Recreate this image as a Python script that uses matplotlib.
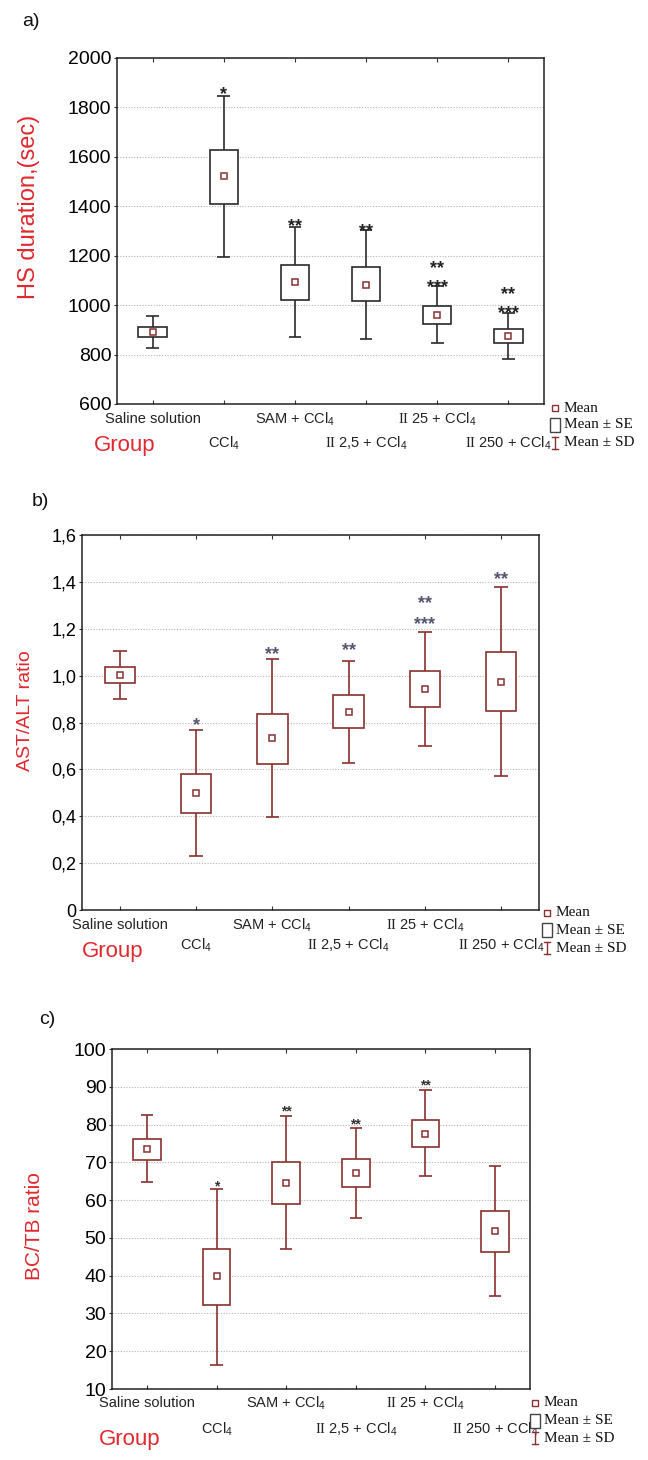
import matplotlib
matplotlib.use('Agg')
import matplotlib.pyplot as plt
from matplotlib.patches import Rectangle
from matplotlib.lines import Line2D

plt.rcParams['font.family'] = ['Liberation Sans', 'DejaVu Sans']
plt.rcParams['mathtext.fontset'] = 'custom'
plt.rcParams['mathtext.rm'] = 'Liberation Sans'
plt.rcParams['mathtext.it'] = 'Liberation Sans:italic'
plt.rcParams['mathtext.bf'] = 'Liberation Sans:bold'
plt.rcParams['mathtext.tt'] = 'Liberation Serif'

# ---------------- data ----------------
groups = ['Saline solution', 'CCl$_4$', 'SAM + CCl$_4$',
          r'$\mathtt{II}$ 2,5 + CCl$_4$', r'$\mathtt{II}$ 25 + CCl$_4$',
          r'$\mathtt{II}$ 250 + CCl$_4$']

# a) HS duration
hs_mean = [890, 1521, 1094, 1081, 961, 876]
hs_se_low = [870, 1411, 1022, 1015, 923, 845]
hs_se_high = [910, 1629, 1161, 1154, 996, 903]
hs_sd_low = [825, 1193, 870, 865, 847, 782]
hs_sd_high = [957, 1848, 1315, 1303, 1079, 968]
hs_stars = [[], ['*'], ['**'], ['**'], ['**', '***'], ['**', '***']]
hs_star_y = [[], [1875], [1338], [1320], [1170, 1092], [1066, 987]]
hs_yticks = [600, 800, 1000, 1200, 1400, 1600, 1800, 2000]
hs_yticklabels = ['600', '800', '1000', '1200', '1400', '1600', '1800', '2000']

# b) AST/ALT ratio
ast_mean = [1.003, 0.500, 0.733, 0.846, 0.943, 0.974]
ast_se_low = [0.970, 0.412, 0.624, 0.778, 0.866, 0.848]
ast_se_high = [1.037, 0.582, 0.838, 0.919, 1.020, 1.101]
ast_sd_low = [0.900, 0.230, 0.395, 0.629, 0.701, 0.570]
ast_sd_high = [1.105, 0.770, 1.071, 1.063, 1.186, 1.378]
ast_stars = [[], ['*'], ['**'], ['**'], ['**', '***'], ['**']]
ast_star_y = [[], [0.812], [1.112], [1.130], [1.330, 1.242], [1.435]]
ast_yticks = [0, 0.2, 0.4, 0.6, 0.8, 1.0, 1.2, 1.4, 1.6]
ast_yticklabels = ['0', '0,2', '0,4', '0,6', '0,8', '1,0', '1,2', '1,4', '1,6']

# c) BC/TB ratio
bc_mean = [73.5, 39.8, 64.5, 67.1, 77.5, 51.7]
bc_se_low = [70.7, 32.3, 58.9, 63.4, 74.0, 46.2]
bc_se_high = [76.3, 47.0, 70.0, 70.8, 81.1, 57.1]
bc_sd_low = [64.7, 16.3, 47.0, 55.2, 66.3, 34.6]
bc_sd_high = [82.4, 62.9, 82.2, 79.0, 89.1, 68.9]
bc_stars = [[], ['*'], ['**'], ['**'], ['**'], []]
bc_star_y = [[], [64.6], [84.5], [81.1], [91.4], []]
bc_yticks = [10, 20, 30, 40, 50, 60, 70, 80, 90, 100]
bc_yticklabels = ['10', '20', '30', '40', '50', '60', '70', '80', '90', '100']

# ---------------- styling ----------------
W, H = 648, 1460
RED = '#e0282e'
BROWN = '#8a3030'
DARK = '#2a2a2a'

fig = plt.figure(figsize=(W / 100, H / 100), dpi=100)


def px_axes(left, right, top, bottom):
    return fig.add_axes([left / W, 1 - bottom / H, (right - left) / W, (bottom - top) / H])


def draw_panel(rect, mean, se_lo, se_hi, sd_lo, sd_hi, yticks, ytl, ylim,
               box_color, mean_color, stars, star_y, star_color, star_fs,
               tick_fs, row1, row2):
    ax = px_axes(*rect)
    x = list(range(1, len(groups) + 1))
    bw, cw = 0.40, 0.18
    for xi, m, sl, sh, dl, dh in zip(x, mean, se_lo, se_hi, sd_lo, sd_hi):
        ax.vlines(xi, dl, dh, color=box_color, lw=1.2, zorder=2)
        ax.hlines([dl, dh], xi - cw / 2, xi + cw / 2, color=box_color, lw=1.2, zorder=2)
        ax.add_patch(Rectangle((xi - bw / 2, sl), bw, sh - sl, facecolor='white',
                               edgecolor=box_color, lw=1.2, zorder=3))
    ax.plot(x, mean, ls='none', marker='s', ms=5, mfc='white', mec=mean_color,
            mew=1.1, zorder=4)
    fs_px = star_fs * 100 / 72
    for xi, sts, sys in zip(x, stars, star_y):
        for s, yv in zip(sts, sys):
            ax.annotate(s, xy=(xi, yv), xytext=(0, -0.55 * fs_px), textcoords='offset pixels',
                        ha='center', va='baseline', fontsize=star_fs, color=star_color,
                        fontweight='bold', zorder=5)
    ax.set_xlim(0.5, len(groups) + 0.5)
    ax.set_ylim(*ylim)
    ax.set_yticks(yticks)
    ax.set_yticklabels(ytl, fontsize=tick_fs, color='black')
    ax.set_xticks(x)
    ax.set_xticklabels([''] * len(x))
    ax.tick_params(axis='x', direction='in', length=3, top=True, bottom=True,
                   color='#333333', width=0.8)
    ax.tick_params(axis='y', direction='out', length=2, pad=2, color='#333333', width=0.8)
    ax.grid(axis='y', ls=(0, (1, 1.5)), color='#b5b5b5', lw=0.8, zorder=0)
    ax.set_axisbelow(True)
    for sp in ax.spines.values():
        sp.set_color('#222222')
        sp.set_linewidth(1.1)
    for i, (xi, g) in enumerate(zip(x, groups)):
        dy = row1 if i % 2 == 0 else row2
        ax.annotate(g, xy=(xi, 0), xycoords=('data', 'axes fraction'),
                    xytext=(0, -dy), textcoords='offset pixels',
                    ha='center', va='center', fontsize=10.5, color='#222222')
    return ax


draw_panel((117, 544, 58, 404), hs_mean, hs_se_low, hs_se_high, hs_sd_low, hs_sd_high,
           hs_yticks, hs_yticklabels, (600, 2000), DARK, BROWN, hs_stars, hs_star_y,
           '#222222', 13, 14, 15, 39)
draw_panel((82, 539, 535, 910), ast_mean, ast_se_low, ast_se_high, ast_sd_low, ast_sd_high,
           ast_yticks, ast_yticklabels, (0, 1.6), BROWN, BROWN, ast_stars, ast_star_y,
           '#555570', 13, 13, 15, 35)
draw_panel((112, 530, 1049, 1389), bc_mean, bc_se_low, bc_se_high, bc_sd_low, bc_sd_high,
           bc_yticks, bc_yticklabels, (10, 100), BROWN, BROWN, bc_stars, bc_star_y,
           '#333333', 10, 14, 14, 40)

# ---------------- overlay for labels / legends ----------------
ov = fig.add_axes([0, 0, 1, 1], facecolor='none')
ov.set_xlim(0, W)
ov.set_ylim(H, 0)
ov.axis('off')

for txt, (px, py) in zip(['a)', 'b)', 'c)'], [(31, 21), (40, 502), (47, 1019)]):
    ov.text(px, py, txt, fontsize=14, ha='center', va='center', color='#111111')

ylabels = ['HS duration,(sec)', 'AST/ALT ratio', 'BC/TB ratio']
ylabel_pos = [(29, 207, 17), (26, 711, 14), (35, 1226, 15)]
for txt, (px, py, fs) in zip(ylabels, ylabel_pos):
    ov.text(px, py, txt, fontsize=fs, rotation=90, ha='center', va='center', color=RED)

for px, py in [(125, 446), (113, 952), (130, 1440)]:
    ov.text(px, py, 'Group', fontsize=16, ha='center', va='center', color=RED)

legend_labels = ['Mean', 'Mean ± SE', 'Mean ± SD']
legend_pos = [(555, 564, [408, 425, 443]), (547, 556, [913, 930, 948]),
              (535, 544, [1403, 1421, 1438])]
for sx, tx, rows in legend_pos:
    # mean marker
    ov.plot([sx], [rows[0]], marker='s', ms=4.5, mfc='white', mec=BROWN, mew=1.0, ls='none')
    # SE box
    ov.add_patch(Rectangle((sx - 5, rows[1] - 7), 10, 14, facecolor='white',
                           edgecolor='#444444', lw=1.0))
    # SD whisker
    ov.add_line(Line2D([sx, sx], [rows[2] - 6, rows[2] + 6], color=BROWN, lw=1.0))
    ov.add_line(Line2D([sx - 3, sx + 3], [rows[2] - 6, rows[2] - 6], color=BROWN, lw=1.0))
    ov.add_line(Line2D([sx - 3, sx + 3], [rows[2] + 6, rows[2] + 6], color=BROWN, lw=1.0))
    for r, lab in zip(rows, legend_labels):
        ov.text(tx, r, lab, fontsize=11, family='Liberation Serif', ha='left',
                va='center', color='#111111')

fig.savefig('out.png', dpi=100)
